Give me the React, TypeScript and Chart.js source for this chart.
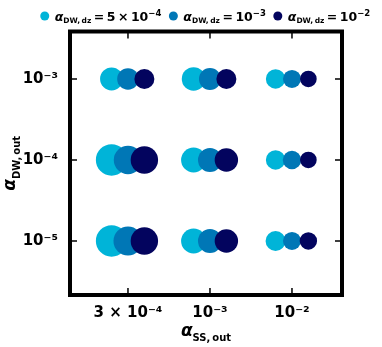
import React, { useEffect, useRef } from 'react';
import { Chart, registerables } from 'chart.js';

Chart.register(...registerables);

// ---- data ----
const xCategories = ['3 × 10⁻⁴', '10⁻³', '10⁻²'];
const yCategories = ['10⁻⁵', '10⁻⁴', '10⁻³'];
const seriesMantissa = ['5\u2009×\u200910', '10', '10'];
const seriesExponent = ['−4', '−3', '−2'];
const seriesColors = ['#00b4d8', '#0077b6', '#03045e'];
// bubble sizes, rows = y categories (10⁻⁵, 10⁻⁴, 10⁻³), columns = x categories
const sizeLow = [
  [15.7, 12.5, 10.0],
  [15.7, 12.5, 9.7],
  [11.5, 11.8, 9.7],
];
const sizeMid = [
  [14.5, 12.0, 9.0],
  [14.2, 12.0, 9.2],
  [10.8, 11.0, 9.0],
];
const sizeHigh = [
  [13.7, 11.7, 8.7],
  [13.7, 11.7, 8.3],
  [10.0, 10.0, 8.3],
];
const seriesSizes = [sizeLow, sizeMid, sizeHigh];

const DODGE = 0.2;
const FONT = '"DejaVu Sans"';

type Seg = { t: string; font: string; dy: number };

function segsWidth(ctx: CanvasRenderingContext2D, segs: Seg[]) {
  let w = 0;
  for (const s of segs) {
    ctx.font = s.font;
    w += ctx.measureText(s.t).width;
  }
  return w;
}

function drawSegs(ctx: CanvasRenderingContext2D, segs: Seg[], x: number, y: number) {
  let cx = x;
  for (const s of segs) {
    ctx.font = s.font;
    ctx.fillText(s.t, cx, y + s.dy);
    cx += ctx.measureText(s.t).width;
  }
}

const decorPlugin = {
  id: 'decor',
  afterDraw(chart: any) {
    const ctx: CanvasRenderingContext2D = chart.ctx;
    const { left, top, right, bottom } = chart.chartArea;
    const xs = chart.scales.x;
    const ys = chart.scales.y;
    ctx.save();
    // frame
    ctx.strokeStyle = '#000';
    ctx.lineWidth = 4;
    ctx.strokeRect(left, top, right - left, bottom - top);
    // inward ticks
    ctx.lineWidth = 1.5;
    ctx.beginPath();
    xCategories.forEach((_, i) => {
      const px = xs.getPixelForValue(i);
      ctx.moveTo(px, bottom);
      ctx.lineTo(px, bottom - 7);
      ctx.moveTo(px, top);
      ctx.lineTo(px, top + 7);
    });
    yCategories.forEach((_, i) => {
      const py = ys.getPixelForValue(i);
      ctx.moveTo(left, py);
      ctx.lineTo(left + 7, py);
      ctx.moveTo(right, py);
      ctx.lineTo(right - 7, py);
    });
    ctx.stroke();

    ctx.fillStyle = '#000';
    ctx.textBaseline = 'alphabetic';
    ctx.textAlign = 'left';

    // x axis title
    const xTitle: Seg[] = [
      { t: 'α', font: `italic bold 17px ${FONT}`, dy: 0 },
      { t: 'SS,\u2009out', font: `bold 10px ${FONT}`, dy: 4.5 },
    ];
    const cx = (left + right) / 2;
    const wx = segsWidth(ctx, xTitle);
    drawSegs(ctx, xTitle, cx - wx / 2, 336);

    // y axis title
    const yTitle: Seg[] = [
      { t: 'α', font: `italic bold 17px ${FONT}`, dy: 0 },
      { t: 'DW,\u2009out', font: `bold 10px ${FONT}`, dy: 4.5 },
    ];
    const cy = (top + bottom) / 2;
    const wy = segsWidth(ctx, yTitle);
    ctx.save();
    ctx.translate(15, cy);
    ctx.rotate(-Math.PI / 2);
    drawSegs(ctx, yTitle, -wy / 2, 0);
    ctx.restore();

    // legend
    const items = seriesMantissa.map((m, i) => {
      const segs: Seg[] = [
        { t: 'α', font: `italic bold 12.5px ${FONT}`, dy: 0 },
        { t: 'DW,\u2009dz', font: `bold 7.5px ${FONT}`, dy: 2.5 },
        { t: '\u2009=\u2009' + m, font: `bold 12.5px ${FONT}`, dy: 0 },
        { t: seriesExponent[i], font: `bold 8.5px ${FONT}`, dy: -5 },
      ];
      return { segs, w: segsWidth(ctx, segs), color: seriesColors[i] };
    });
    const gapText = 10;
    const gapItem = 12;
    let span = 0;
    items.forEach((it, i) => {
      span += gapText + it.w + (i < items.length - 1 ? gapItem : 0);
    });
    let cur = 207.5 - span / 2;
    items.forEach((it) => {
      ctx.fillStyle = it.color;
      ctx.beginPath();
      ctx.arc(cur, 16, 4.5, 0, Math.PI * 2);
      ctx.fill();
      ctx.fillStyle = '#000';
      drawSegs(ctx, it.segs, cur + gapText, 20.7);
      cur += gapText + it.w + gapItem;
    });
    ctx.restore();
  },
};

export default function App() {
  const ref = useRef<HTMLCanvasElement | null>(null);
  useEffect(() => {
    if (!ref.current) return;
    const datasets = seriesSizes.map((sizes, s) => {
      const data: { x: number; y: number; r: number }[] = [];
      yCategories.forEach((_, yi) => {
        xCategories.forEach((_, xi) => {
          data.push({ x: xi + (s - 1) * DODGE, y: yi, r: sizes[yi][xi] });
        });
      });
      return {
        label: seriesMantissa[s] + seriesExponent[s],
        data,
        backgroundColor: seriesColors[s],
        borderWidth: 0,
        hoverRadius: 0,
        order: 3 - s,
      };
    });
    const tickFont = { family: 'DejaVu Sans', size: 15, weight: 'bold' as const };
    const chart = new Chart(ref.current, {
      type: 'bubble',
      data: { datasets },
      options: {
        responsive: false,
        animation: false,
        layout: { padding: { left: 0, top: 31.5, right: 40, bottom: 0 } },
        plugins: { legend: { display: false }, tooltip: { enabled: false } },
        scales: {
          x: {
            type: 'linear',
            min: -0.707,
            max: 2.61,
            grid: { display: false },
            border: { display: false },
            afterBuildTicks: (scale: any) => {
              scale.ticks = xCategories.map((_, i) => ({ value: i }));
            },
            afterFit: (scale: any) => {
              scale.height = 52;
            },
            ticks: {
              color: '#000',
              font: tickFont,
              padding: 1,
              maxRotation: 0,
              callback: (v: any) => xCategories[Number(v)] ?? '',
            },
          },
          y: {
            type: 'linear',
            min: -0.667,
            max: 2.586,
            grid: { display: false },
            border: { display: false },
            afterBuildTicks: (scale: any) => {
              scale.ticks = yCategories.map((_, i) => ({ value: i }));
            },
            afterFit: (scale: any) => {
              scale.width = 70;
            },
            ticks: {
              color: '#000',
              font: tickFont,
              padding: 4,
              callback: (v: any) => yCategories[Number(v)] ?? '',
            },
          },
        },
      },
      plugins: [decorPlugin],
    });
    return () => chart.destroy();
  }, []);
  return (
    <div style={{ position: 'fixed', left: 0, top: 0, width: 382, height: 347, background: '#fff' }}>
      <canvas ref={ref} width={382} height={347} style={{ display: 'block' }} />
    </div>
  );
}
